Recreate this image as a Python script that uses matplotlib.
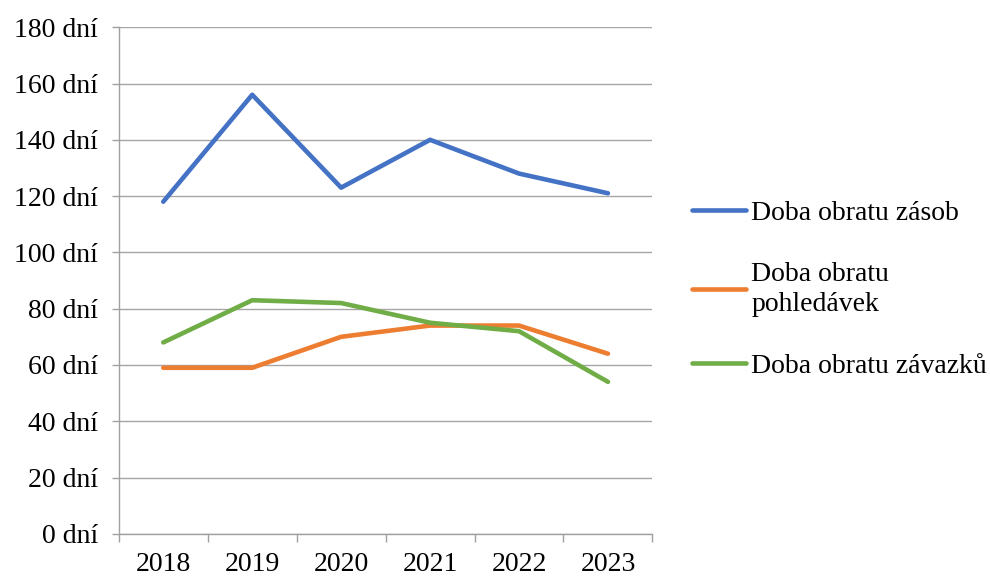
import numpy as np
import matplotlib
matplotlib.use('Agg')
import matplotlib.pyplot as plt
from matplotlib.lines import Line2D

# Doba obratu (dny) 2018-2023
years = ['2018', '2019', '2020', '2021', '2022', '2023']
zasoby = [118, 156, 123, 140, 128, 121]
pohledavky = [59, 59, 70, 74, 74, 64]
zavazky = [68, 83, 82, 75, 72, 54]
labels = ['Doba obratu zásob', 'Doba obratu\npohledávek', 'Doba obratu závazků']
colors = ['#4472C4', '#ED7D31', '#70AD47']

plt.rcParams['font.family'] = ['Liberation Serif', 'DejaVu Serif']

fig = plt.figure(figsize=(9.9, 5.79), dpi=100)
ax = fig.add_axes([0.120, 0.078, 0.539, 0.875])

x = np.arange(len(years))
for vals, c, lab in zip([zasoby, pohledavky, zavazky], colors, labels):
    ax.plot(x, vals, color=c, lw=3.3, label=lab, solid_capstyle='round', solid_joinstyle='round')

ax.set_xlim(-0.5, len(years) - 0.5)
ax.set_ylim(0, 180)
ax.set_yticks(np.arange(0, 181, 20))
ax.set_yticklabels([f'{v} dní' for v in range(0, 181, 20)])
ax.set_xticks(x)
ax.set_xticklabels(years)
ax.set_xticks(np.arange(-0.5, len(years)), minor=True)
ax.tick_params(axis='x', which='major', length=0, pad=13, labelsize=20)
ax.tick_params(axis='x', which='minor', length=6, color='#A0A0A0', width=1)
ax.tick_params(axis='y', length=5, color='#A0A0A0', width=1, pad=10, labelsize=20)
ax.grid(axis='y', color='#A6A6A6', lw=1)
ax.set_axisbelow(True)
for s in ['top', 'right']:
    ax.spines[s].set_visible(False)
for s in ['left', 'bottom']:
    ax.spines[s].set_color('#A0A0A0')
    ax.spines[s].set_linewidth(1)

handles = [Line2D([0], [0], color=c, lw=3.3, solid_capstyle='round') for c in colors]
leg = fig.legend(handles, labels, loc='center left', bbox_to_anchor=(0.688, 0.50),
                 frameon=False, fontsize=20, handlelength=1.95, handletextpad=0.18,
                 labelspacing=1.3, borderaxespad=0)
for t in leg.get_texts():
    t.set_linespacing(1.3)

fig.savefig('out.png', dpi=100)
